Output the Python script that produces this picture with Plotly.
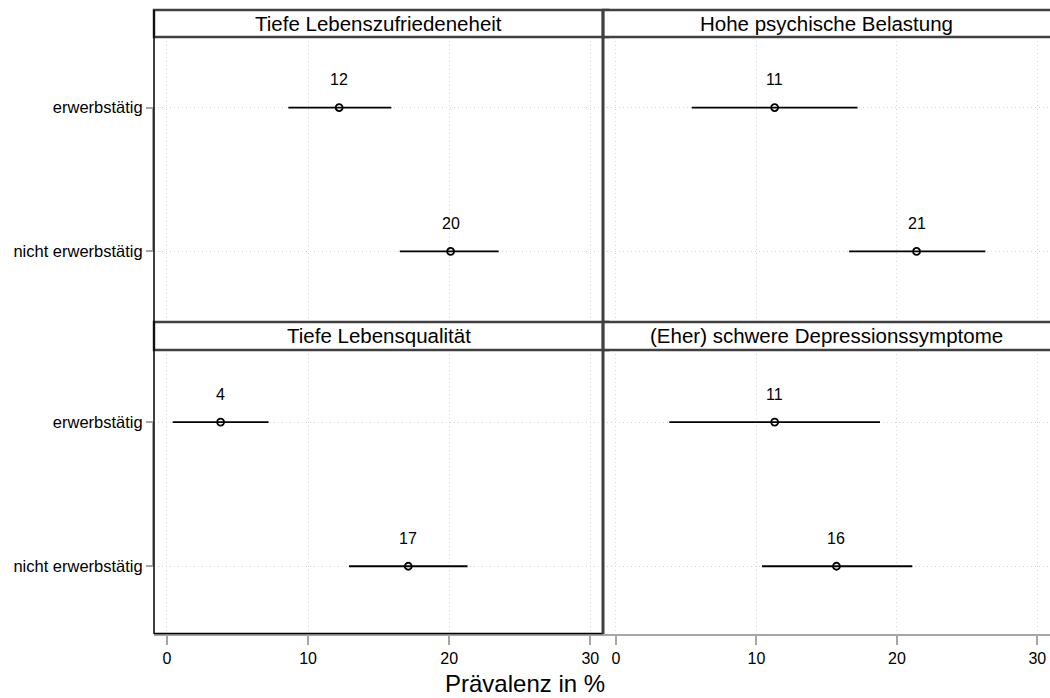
import plotly.graph_objects as go

categories = ["erwerbstätig", "nicht erwerbstätig"]
panel_titles = ["Tiefe Lebenszufriedeneheit", "Hohe psychische Belastung",
                "Tiefe Lebensqualität", "(Eher) schwere Depressionssymptome"]
estimates = [[12.2, 20.1], [11.3, 21.4], [3.8, 17.1], [11.3, 15.7]]
ci_low = [[8.6, 16.5], [5.4, 16.6], [0.4, 12.9], [3.8, 10.4]]
ci_high = [[15.9, 23.5], [17.2, 26.3], [7.2, 21.3], [18.8, 21.1]]
labels = [["12", "20"], ["11", "21"], ["4", "17"], ["11", "16"]]
x_ticks = [0, 10, 20, 30]

W, H = 1050, 698
FONT = "Liberation Sans, Arial, sans-serif"

def px_x(p):
    return p / W

def px_y(p):
    return 1 - p / H

cols = [(154, 603), (603, 1050)]
rows = [(37, 322), (350, 634)]
strips = [(10, 37), (322, 350)]

fig = go.Figure()
annotations = []
shapes = []
GRID = "#d4d4d4"
AXC = "#a6a6a6"

for i in range(4):
    r, c = divmod(i, 2)
    n = i + 1
    xa = "x" if n == 1 else f"x{n}"
    ya = "y" if n == 1 else f"y{n}"
    est = estimates[i]
    fig.add_trace(go.Scatter(
        x=est, y=categories, xaxis=xa, yaxis=ya, mode="markers",
        marker=dict(symbol="circle-open", size=7, color="black",
                    line=dict(width=1.8, color="black")),
        error_x=dict(type="data", symmetric=False,
                     array=[h - e for h, e in zip(ci_high[i], est)],
                     arrayminus=[e - l for e, l in zip(est, ci_low[i])],
                     width=0, thickness=1.8, color="black"),
        showlegend=False, hoverinfo="skip"))
    for k in range(2):
        annotations.append(dict(x=est[k], y=categories[k], xref=xa, yref=ya,
                                text=labels[i][k], showarrow=False, yshift=28,
                                font=dict(family=FONT, size=16, color="black")))
    x0, x1 = cols[c]
    y0, y1 = rows[r]
    axkw = dict(domain=[px_x(x0), min(1.0, px_x(x1))], anchor=ya, range=[-0.92, 30.9],
                tickvals=x_ticks, showgrid=True, gridcolor=GRID, griddash="1px,3px",
                gridwidth=1, zeroline=False, automargin=False,
                tickfont=dict(family=FONT, size=16, color="black"))
    if r == 1:
        axkw.update(showline=True, linecolor=AXC, linewidth=2,
                    ticks="outside", ticklen=9, tickwidth=2, tickcolor=AXC,
                    showticklabels=True)
    else:
        axkw.update(showline=False, ticks="", showticklabels=False)
    yrange = [1.49, -0.49] if r == 0 else [1.47, -0.5]
    aykw = dict(domain=[px_y(y1), px_y(y0)], anchor=xa, range=yrange,
                type="category", categoryarray=categories, categoryorder="array",
                showgrid=True, gridcolor=GRID, griddash="1px,3px", gridwidth=1,
                zeroline=False, automargin=False, showline=False,
                tickfont=dict(family=FONT, size=16.5, color="black"))
    if c == 0:
        aykw.update(ticks="outside", ticklen=7, tickwidth=2, tickcolor=AXC,
                    showticklabels=True)
        shapes.append(dict(type="line", xref="paper", yref=ya,
                           x0=px_x(153), x1=px_x(153),
                           y0=categories[0], y1=categories[1],
                           line=dict(color=AXC, width=2), layer="below"))
    else:
        aykw.update(ticks="", showticklabels=False)
    fig.update_layout(**{("xaxis" if n == 1 else f"xaxis{n}"): axkw,
                         ("yaxis" if n == 1 else f"yaxis{n}"): aykw})
    s0, s1 = strips[r]
    shapes.append(dict(type="rect", xref="paper", yref="paper",
                       x0=px_x(x0), x1=px_x(x1 + 5), y0=px_y(s1), y1=px_y(s0),
                       fillcolor="white", line=dict(color="#404040", width=2.5)))
    annotations.append(dict(x=px_x((x0 + x1) / 2), y=px_y((s0 + s1) / 2),
                            xref="paper", yref="paper", text=panel_titles[i],
                            showarrow=False, xanchor="center", yanchor="middle",
                            font=dict(family=FONT, size=20.5, color="black")))

shapes.append(dict(type="line", xref="paper", yref="paper", x0=px_x(154), x1=px_x(154),
                   y0=px_y(10), y1=px_y(634), line=dict(color="black", width=1.5)))
shapes.append(dict(type="line", xref="paper", yref="paper", x0=px_x(154), x1=px_x(603),
                   y0=px_y(633.5), y1=px_y(633.5), line=dict(color="black", width=1.5)))
shapes.append(dict(type="line", xref="paper", yref="paper", x0=px_x(603), x1=px_x(603),
                   y0=px_y(10), y1=px_y(634), line=dict(color="#404040", width=3)))

annotations.append(dict(x=px_x(525), y=px_y(683), xref="paper", yref="paper",
                        text="Prävalenz in %", showarrow=False, xanchor="center",
                        yanchor="middle", font=dict(family=FONT, size=24, color="black")))

fig.update_layout(width=W, height=H, margin=dict(l=0, r=0, t=0, b=0),
                  paper_bgcolor="white", plot_bgcolor="white",
                  annotations=annotations, shapes=shapes,
                  font=dict(family=FONT, color="black"))

fig.write_html("out.html", config={"displayModeBar": False},
               post_script="document.body.style.margin='0';document.body.style.overflow='hidden';")
